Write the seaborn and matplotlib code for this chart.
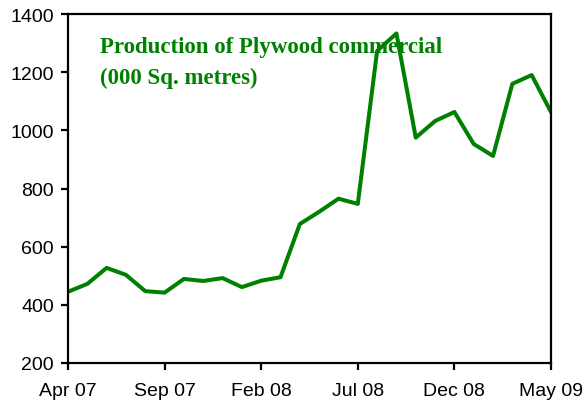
import matplotlib
matplotlib.use("Agg")
import matplotlib.pyplot as plt
import seaborn as sns
import pandas as pd

months = ["Apr 07", "May 07", "Jun 07", "Jul 07", "Aug 07", "Sep 07", "Oct 07", "Nov 07",
          "Dec 07", "Jan 08", "Feb 08", "Mar 08", "Apr 08", "May 08", "Jun 08", "Jul 08",
          "Aug 08", "Sep 08", "Oct 08", "Nov 08", "Dec 08", "Jan 09", "Feb 09", "Mar 09",
          "Apr 09", "May 09"]
production = [445, 472, 527, 503, 447, 442, 489, 482, 492, 461, 483, 495, 678, 720,
              765, 747, 1273, 1333, 975, 1032, 1063, 953, 912, 1160, 1190, 1063]
tick_labels = ["Apr 07", "Sep 07", "Feb 08", "Jul 08", "Dec 08", "May 09"]
y_ticks = [200, 400, 600, 800, 1000, 1200, 1400]
title_lines = ["Production of Plywood commercial", "(000 Sq. metres)"]

sns.set_style("white")
plt.rcParams['font.family'] = ['Liberation Sans', 'DejaVu Sans']

df = pd.DataFrame({"idx": range(len(months)), "month": months, "value": production})

fig = plt.figure(figsize=(5.86, 4.06), dpi=100)
ax = fig.add_axes([68/586, 1 - 364/406, (551-68)/586, (364-15)/406])
sns.lineplot(data=df, x="idx", y="value", ax=ax, color="#008000", linewidth=2.9)

ax.set_xlim(0, len(months) - 1)
ax.set_ylim(200, 1400)
ax.set_yticks(y_ticks)
ax.set_yticklabels([str(v) for v in y_ticks], fontsize=14)
tick_pos = [months.index(m) for m in tick_labels]
ax.set_xticks(tick_pos)
ax.set_xticklabels(tick_labels, fontsize=14)
ax.set_xlabel("")
ax.set_ylabel("")
for s in ax.spines.values():
    s.set_color("black")
    s.set_linewidth(1.6)
    s.set_visible(True)
ax.tick_params(axis="both", direction="out", length=5, width=1.6, color="black",
               labelcolor="black", left=True, bottom=True)
ax.tick_params(axis="y", pad=5)
ax.tick_params(axis="x", pad=9)

for line, base in zip(title_lines, [53, 84]):
    fig.text(100/586, 1 - base/406, line, ha="left", va="baseline", color="#008000",
             fontsize=16.5, fontweight="bold", family=["Liberation Serif"])

fig.savefig("out.png", dpi=100)
